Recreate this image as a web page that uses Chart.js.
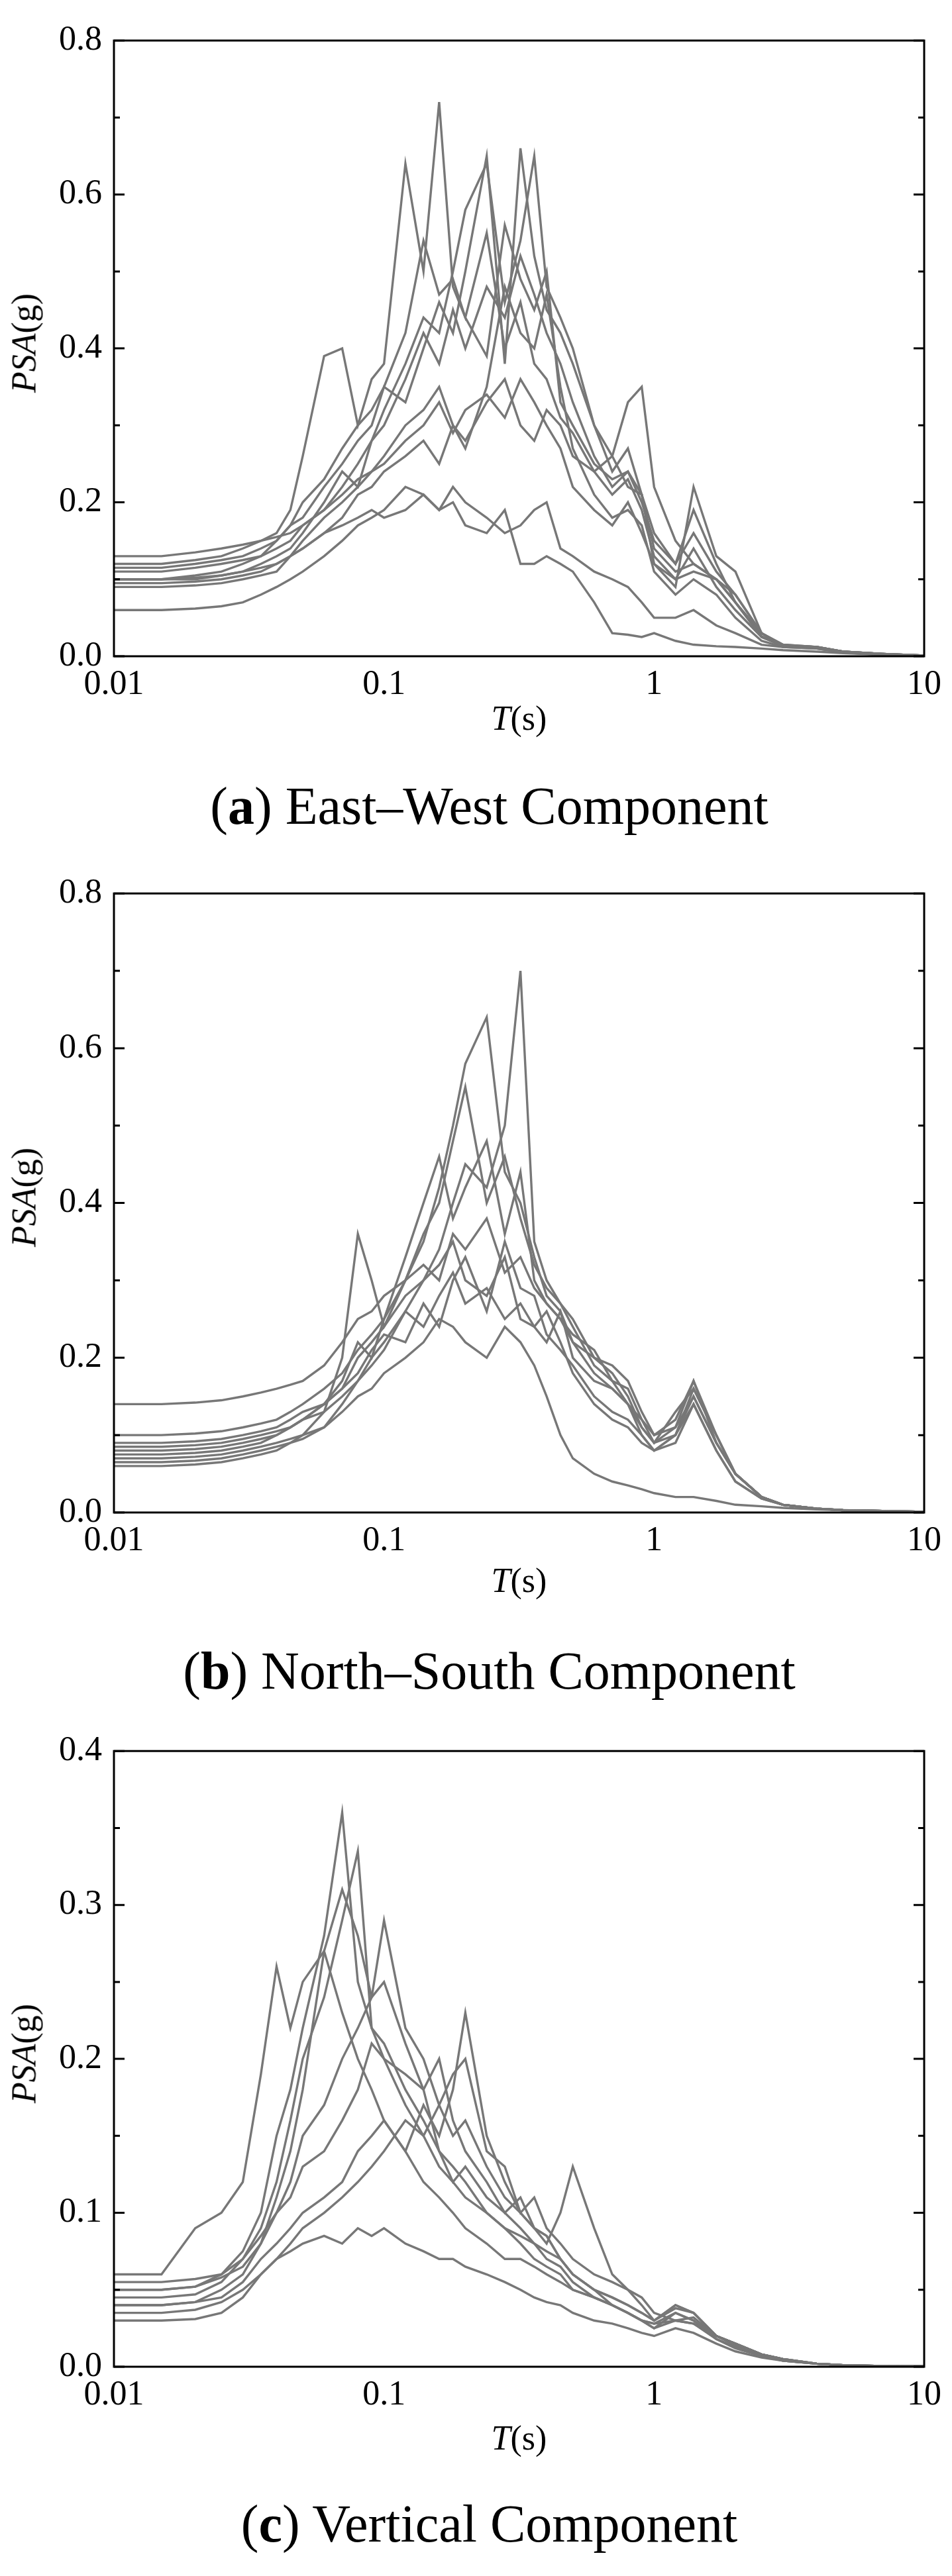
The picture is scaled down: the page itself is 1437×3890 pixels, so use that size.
<!DOCTYPE html>
<html><head><meta charset="utf-8">
<script src="https://cdn.jsdelivr.net/npm/chart.js@4/dist/chart.umd.min.js"></script>
<style>
body{margin:0;width:1437px;height:3890px;background:#fff;position:relative;font-family:"Liberation Serif","DejaVu Serif",serif;}
.wrap{position:absolute;left:0;width:1437px;}
.t{position:absolute;color:#000;white-space:nowrap;}
.cap{font-size:80px;left:0;width:1437px;text-align:center;padding-left:40px;box-sizing:border-box;}
.xl{font-size:52px;left:0;width:1437px;text-align:center;padding-left:130px;box-sizing:border-box;}
.yl{font-size:52px;transform:translate(-50%,-50%) rotate(-90deg);left:36px;}
</style></head><body>
<div class="wrap" style="top:20px;height:1036px"><canvas id="ca"></canvas></div>
<div class="wrap" style="top:1308px;height:1041px"><canvas id="cb"></canvas></div>
<div class="wrap" style="top:2603px;height:1036px"><canvas id="cc"></canvas></div>
<div class="t yl" style="top:518px"><i>PSA</i>(g)</div>
<div class="t yl" style="top:1808px"><i>PSA</i>(g)</div>
<div class="t yl" style="top:3101px"><i>PSA</i>(g)</div>
<div class="t xl" style="top:1055px"><i>T</i>(s)</div>
<div class="t xl" style="top:2357px"><i>T</i>(s)</div>
<div class="t xl" style="top:3652px"><i>T</i>(s)</div>
<div class="t cap" style="top:1172px">(<b>a</b>) East–West Component</div>
<div class="t cap" style="top:2478px">(<b>b</b>) North–South Component</div>
<div class="t cap" style="top:3766px">(<b>c</b>) Vertical Component</div>
<script>
const periods=[0.01,0.015,0.02,0.025,0.03,0.035,0.04,0.045,0.05,0.06,0.07,0.08,0.09,0.1,0.12,0.14,0.16,0.18,0.2,0.24,0.28,0.32,0.36,0.4,0.45,0.5,0.6,0.7,0.8,0.9,1.0,1.2,1.4,1.7,2.0,2.5,3,4,5,7,10];
const xTicks=[0.01,0.1,1,10];
const ewSeries=[
[.10,.10,.10,.105,.11,.12,.13,.14,.16,.20,.24,.22,.28,.30,.36,.42,.38,.45,.40,.48,.44,.52,.47,.42,.38,.33,.26,.22,.24,.20,.15,.12,.16,.11,.08,.03,.015,.012,.006,.003,.001],
[.12,.12,.125,.13,.14,.15,.16,.19,.26,.39,.40,.30,.36,.38,.64,.50,.72,.48,.44,.55,.40,.46,.38,.36,.31,.29,.24,.21,.23,.19,.13,.10,.14,.09,.06,.025,.014,.012,.006,.003,.001],
[.06,.06,.062,.065,.07,.08,.09,.10,.11,.13,.15,.17,.18,.19,.22,.21,.19,.20,.17,.16,.19,.12,.12,.13,.12,.11,.07,.03,.028,.025,.03,.02,.015,.013,.012,.01,.008,.006,.004,.002,.001],
[.11,.11,.115,.12,.125,.13,.15,.17,.18,.22,.25,.28,.30,.35,.33,.40,.46,.42,.50,.65,.38,.66,.52,.45,.42,.38,.30,.26,.22,.21,.14,.11,.12,.10,.07,.025,.013,.011,.006,.003,.001],
[.09,.09,.092,.095,.10,.105,.11,.13,.15,.18,.20,.22,.24,.26,.30,.32,.35,.30,.28,.33,.36,.30,.28,.32,.30,.26,.24,.26,.33,.35,.22,.15,.12,.10,.08,.03,.013,.011,.006,.003,.001],
[.10,.10,.105,.11,.12,.13,.14,.15,.17,.19,.22,.25,.28,.32,.38,.44,.42,.50,.58,.64,.46,.54,.65,.48,.44,.40,.30,.24,.27,.21,.16,.12,.19,.12,.07,.03,.015,.012,.006,.003,.001],
[.13,.13,.135,.14,.145,.15,.155,.16,.17,.19,.21,.23,.24,.25,.28,.30,.33,.29,.32,.34,.31,.36,.33,.30,.27,.22,.19,.17,.20,.16,.12,.09,.22,.13,.11,.03,.014,.012,.006,.003,.001],
[.095,.095,.097,.10,.105,.11,.12,.13,.14,.16,.18,.21,.22,.24,.26,.28,.25,.30,.27,.35,.48,.42,.40,.47,.35,.27,.21,.18,.19,.17,.11,.08,.10,.08,.05,.02,.012,.01,.005,.002,.001],
[.115,.115,.12,.125,.13,.14,.15,.17,.20,.23,.27,.30,.32,.35,.42,.54,.47,.49,.44,.39,.56,.49,.45,.50,.33,.30,.25,.23,.24,.21,.12,.10,.11,.10,.07,.026,.014,.012,.006,.003,.001],
[.10,.10,.102,.105,.11,.115,.12,.13,.14,.16,.17,.18,.19,.18,.19,.21,.19,.22,.20,.18,.16,.17,.19,.20,.14,.13,.11,.10,.09,.07,.05,.05,.06,.04,.03,.015,.012,.01,.005,.002,.001]];
const nsSeries=[
[.08,.08,.082,.085,.09,.095,.10,.11,.12,.13,.15,.17,.19,.21,.26,.30,.34,.40,.45,.42,.50,.70,.35,.30,.27,.25,.20,.18,.15,.11,.09,.13,.16,.10,.05,.02,.01,.005,.003,.002,.001],
[.09,.09,.092,.095,.10,.105,.11,.12,.13,.14,.16,.20,.22,.24,.30,.35,.42,.50,.58,.64,.44,.40,.33,.28,.26,.22,.18,.16,.14,.12,.10,.12,.17,.09,.05,.02,.01,.005,.003,.002,.001],
[.14,.14,.142,.145,.15,.155,.16,.165,.17,.19,.22,.25,.26,.28,.30,.32,.30,.36,.34,.38,.31,.33,.29,.27,.25,.22,.20,.19,.17,.13,.10,.11,.15,.09,.05,.02,.01,.005,.003,.002,.001],
[.06,.06,.062,.065,.07,.075,.08,.09,.10,.13,.20,.36,.30,.24,.28,.30,.32,.35,.30,.28,.33,.25,.24,.26,.22,.18,.14,.12,.11,.09,.08,.10,.14,.08,.04,.018,.01,.005,.003,.002,.001],
[.07,.07,.072,.075,.08,.085,.09,.095,.10,.11,.13,.15,.16,.18,.20,.22,.25,.24,.22,.20,.24,.22,.19,.15,.10,.07,.05,.04,.035,.03,.025,.02,.02,.015,.01,.008,.006,.004,.003,.002,.001],
[.10,.10,.102,.105,.11,.115,.12,.13,.14,.16,.18,.21,.23,.25,.33,.40,.46,.38,.42,.48,.36,.44,.30,.27,.25,.23,.21,.17,.16,.12,.09,.11,.17,.10,.05,.02,.01,.005,.003,.002,.001],
[.065,.065,.067,.07,.075,.08,.085,.09,.095,.11,.14,.17,.20,.22,.26,.24,.28,.31,.27,.29,.25,.27,.24,.22,.26,.20,.17,.16,.14,.10,.08,.10,.15,.09,.05,.02,.01,.005,.003,.002,.001],
[.085,.085,.087,.09,.095,.10,.105,.11,.12,.14,.17,.22,.20,.25,.30,.36,.40,.48,.55,.40,.46,.38,.32,.29,.27,.24,.19,.17,.14,.11,.09,.10,.16,.10,.05,.02,.01,.005,.003,.002,.001],
[.075,.075,.077,.08,.085,.09,.10,.11,.12,.14,.16,.18,.21,.23,.22,.27,.24,.30,.33,.26,.35,.29,.28,.23,.21,.19,.15,.13,.12,.10,.08,.09,.14,.08,.04,.018,.01,.005,.003,.002,.001]];
const vSeries=[
[.05,.05,.052,.06,.075,.10,.15,.18,.22,.28,.36,.25,.22,.20,.17,.15,.13,.12,.11,.10,.09,.085,.08,.075,.07,.06,.05,.04,.035,.03,.028,.035,.03,.02,.015,.008,.005,.002,.001,.0005,.0002],
[.045,.045,.047,.055,.07,.09,.12,.16,.20,.24,.29,.335,.22,.21,.18,.16,.14,.12,.13,.11,.10,.09,.08,.07,.065,.055,.045,.04,.035,.03,.025,.03,.032,.02,.014,.008,.004,.002,.001,.0005,.0002],
[.055,.055,.057,.06,.07,.085,.10,.12,.15,.17,.20,.22,.24,.29,.22,.20,.17,.15,.16,.13,.11,.10,.09,.085,.07,.06,.05,.045,.04,.035,.03,.038,.035,.02,.015,.008,.005,.002,.001,.0005,.0002],
[.06,.06,.09,.10,.12,.19,.26,.22,.25,.27,.23,.20,.18,.16,.14,.12,.11,.10,.09,.08,.07,.07,.065,.06,.055,.05,.045,.04,.035,.03,.028,.03,.028,.018,.012,.007,.004,.002,.001,.0005,.0002],
[.03,.03,.031,.035,.045,.06,.07,.075,.08,.085,.08,.09,.085,.09,.08,.075,.07,.07,.065,.06,.055,.05,.045,.042,.04,.035,.03,.028,.025,.022,.02,.025,.022,.015,.01,.006,.004,.002,.001,.0005,.0002],
[.04,.04,.042,.045,.055,.07,.08,.09,.10,.11,.12,.14,.15,.16,.14,.17,.15,.18,.23,.15,.12,.10,.09,.08,.10,.13,.09,.06,.05,.045,.035,.03,.028,.02,.015,.008,.005,.002,.001,.0005,.0002],
[.05,.05,.052,.058,.065,.08,.10,.11,.13,.14,.16,.18,.21,.20,.19,.18,.20,.16,.14,.12,.10,.11,.09,.085,.07,.06,.05,.045,.04,.035,.03,.04,.035,.02,.015,.008,.005,.002,.001,.0005,.0002],
[.04,.04,.042,.05,.06,.08,.11,.14,.18,.27,.31,.28,.24,.25,.21,.18,.14,.13,.12,.10,.09,.08,.07,.065,.06,.05,.045,.04,.035,.03,.025,.035,.03,.018,.013,.007,.004,.002,.001,.0005,.0002],
[.035,.035,.037,.042,.05,.06,.07,.08,.09,.10,.11,.12,.13,.14,.16,.15,.17,.19,.20,.14,.13,.10,.11,.09,.08,.07,.06,.055,.05,.04,.03,.04,.035,.02,.015,.008,.005,.002,.001,.0005,.0002]];
const yMaxA=0.8,yStepA=0.2,yMaxC=0.4,yStepC=0.1;

const frame={id:'frame',afterDraw(ch){
  const c=ch.ctx,a=ch.chartArea,y=ch.scales.y;
  c.save();c.strokeStyle='#000';c.lineWidth=3;
  c.strokeRect(a.left,a.top,a.right-a.left,a.bottom-a.top);
  const st=ch.options.scales.y.ticks.stepSize,mx=ch.options.scales.y.max;
  for(let i=0;i<=Math.round(mx/(st/2));i++){
    const v=i*st/2,p=y.getPixelForValue(v),L=(i%2===0)?16:9;
    c.beginPath();c.moveTo(a.left,p);c.lineTo(a.left+L,p);c.moveTo(a.right,p);c.lineTo(a.right-L,p);c.stroke();
  }
  c.restore();}};

function make(id,series,ymax,step){
  new Chart(document.getElementById(id),{type:'line',
    data:{datasets:series.map(s=>({data:periods.map((p,i)=>({x:p,y:s[i]})),borderColor:'#777777',borderWidth:3.4,pointRadius:0,fill:false,tension:0}))},
    options:{responsive:true,maintainAspectRatio:false,animation:false,
      layout:{padding:{top:25,right:42,left:0,bottom:0}},
      plugins:{legend:{display:false},tooltip:{enabled:false}},
      scales:{
        x:{type:'logarithmic',min:0.01,max:10,
          afterBuildTicks(s){s.ticks=xTicks.map(v=>({value:v}));},
          afterFit(s){s.height=65;},
          grid:{display:false},border:{display:false},
          ticks:{color:'#000',font:{family:'Liberation Serif',size:52},padding:4,maxRotation:0,callback:v=>String(v)}},
        y:{min:0,max:ymax,afterFit(s){s.width=172;},
          grid:{display:false},border:{display:false},
          ticks:{stepSize:step,color:'#000',font:{family:'Liberation Serif',size:52},padding:10,callback:v=>Number(v).toFixed(1)}}}},
    plugins:[frame]});
}
make('ca',ewSeries,yMaxA,yStepA);
make('cb',nsSeries,yMaxA,yStepA);
make('cc',vSeries,yMaxC,yStepC);
</script></body></html>
